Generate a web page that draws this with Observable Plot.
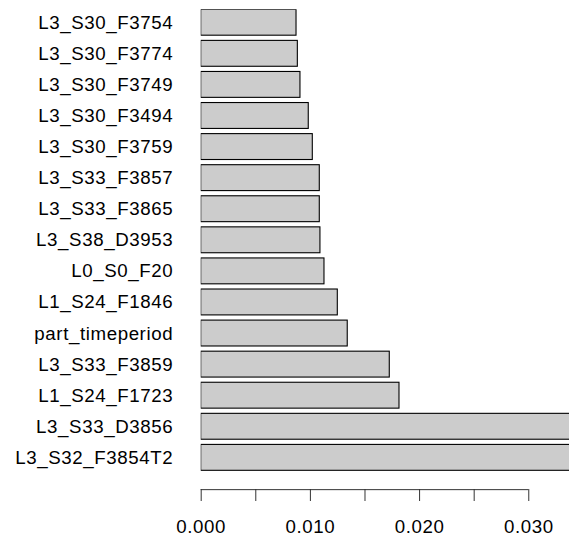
<!DOCTYPE html>
<html>
<head>
<meta charset="utf-8">
<script src="https://cdn.jsdelivr.net/npm/d3@7"></script>
<script src="https://cdn.jsdelivr.net/npm/@observablehq/plot@0.6"></script>
<style>
  html, body { margin: 0; padding: 0; background: #fff; }
  #chart svg { display: block; }
</style>
</head>
<body>
<div id="chart"></div>
<script>
// Feature names, top to bottom
const features = [
  "L3_S30_F3754", "L3_S30_F3774", "L3_S30_F3749", "L3_S30_F3494", "L3_S30_F3759",
  "L3_S33_F3857", "L3_S33_F3865", "L3_S38_D3953", "L0_S0_F20", "L1_S24_F1846",
  "part_timeperiod", "L3_S33_F3859", "L1_S24_F1723", "L3_S33_D3856", "L3_S32_F3854T2"
];
// Importance values (last two run beyond the visible axis; estimated)
const importance = [
  0.00873, 0.00885, 0.00909, 0.00985, 0.01022,
  0.01086, 0.01086, 0.01092, 0.01129, 0.01251,
  0.01342, 0.01727, 0.01816, 0.045, 0.050
];
const xTicks = [0, 0.005, 0.010, 0.015, 0.020, 0.025, 0.030];

const data = features.map((f, i) => ({feature: f, value: importance[i]}));

const chart = Plot.plot({
  width: 569,
  height: 536,
  marginLeft: 200.7,
  marginRight: 0,
  marginTop: 9.3,
  marginBottom: 47,
  style: {fontFamily: "'Liberation Sans', Arial, Helvetica, sans-serif", color: "#000", background: "#fff", letterSpacing: "0.6px"},
  x: {domain: [0, 0.03373], range: [200.7, 569]},
  y: {domain: features, range: [9.3, 470.3], paddingInner: 0.167, paddingOuter: 0, round: false},
  marks: [
    Plot.barX(data, {x: "value", y: "feature", fill: "#cccccc", stroke: "#000", strokeWidth: 1.1, clip: true}),
    Plot.ruleY([features[features.length - 1]], {x1: 0, x2: 0.03, dy: 31.8, stroke: "#333", strokeWidth: 1}),
    Plot.axisX({ticks: xTicks, tickSize: 12, tickPadding: 18, fontSize: 18.7, stroke: "#333", label: null,
      tickFormat: d => Math.abs(d * 100 - Math.round(d * 100)) < 1e-9 ? d.toFixed(3) : ""}),
    Plot.axisY({tickSize: 0, tickPadding: 28, fontSize: 18.7, label: null})
  ]
});
document.getElementById("chart").appendChild(chart);
</script>
</body>
</html>
